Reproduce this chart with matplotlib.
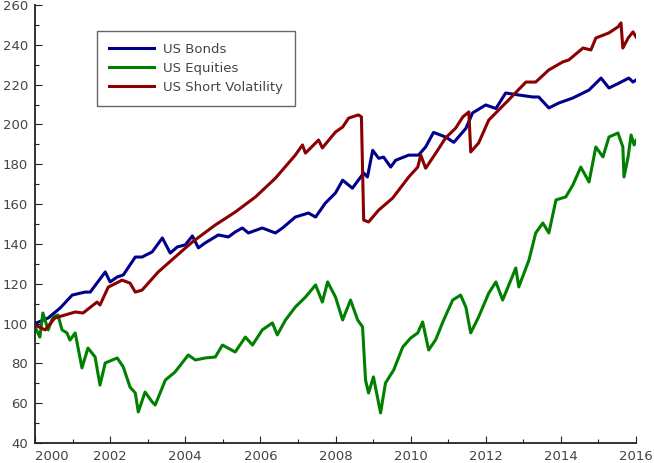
import matplotlib
matplotlib.use("Agg")
import matplotlib.pyplot as plt
from matplotlib.ticker import MultipleLocator

# values (decimal year, index level)
bonds_t = [2000.0, 2000.35, 2000.67, 2000.99, 2001.33, 2001.47, 2001.87, 2002.0, 2002.19, 2002.35,
           2002.67, 2002.85, 2003.12, 2003.39, 2003.6, 2003.79, 2004.0, 2004.19, 2004.35, 2004.53,
           2004.88, 2005.15, 2005.33, 2005.52, 2005.68, 2006.05, 2006.4, 2006.59, 2006.93, 2007.28,
           2007.47, 2007.73, 2008.0, 2008.19, 2008.45, 2008.75, 2008.85, 2008.99, 2009.15, 2009.28,
           2009.47, 2009.6, 2009.95, 2010.21, 2010.4, 2010.61, 2010.93, 2011.15, 2011.47, 2011.65,
           2012.0, 2012.27, 2012.53, 2012.88, 2013.25, 2013.41, 2013.68, 2013.95, 2014.32, 2014.75,
           2015.07, 2015.28, 2015.55, 2015.81, 2015.92, 2016.0]
bonds_v = [100, 102.8, 107.8, 114.3, 115.8, 115.8, 125.9, 120.9, 123.4, 124.4,
           133.4, 133.4, 136, 143, 135.4, 138.5, 139.5, 144, 138, 140.5,
           144.5, 143.5, 146, 148, 145.5, 148, 145.5, 148, 153.5, 155.5,
           153.5, 160.5, 165.6, 172, 168, 175.6, 173.6, 187, 183, 183.6,
           178.6, 182, 184.6, 184.6, 188.7, 196, 193.7, 191, 198, 205.8,
           209.8, 208, 215.8, 214.8, 213.8, 213.8, 208.3, 210.8, 213.3, 217.3,
           223.3, 218.3, 220.8, 223.3, 221.3, 222.3]

equity_t = [2000.0, 2000.13, 2000.21, 2000.35, 2000.48, 2000.61, 2000.72, 2000.85, 2000.93, 2001.07,
            2001.25, 2001.41, 2001.6, 2001.73, 2001.87, 2002.19, 2002.35, 2002.53, 2002.67, 2002.75,
            2002.93, 2003.12, 2003.2, 2003.47, 2003.73, 2004.08, 2004.27, 2004.53, 2004.8, 2004.99,
            2005.33, 2005.6, 2005.79, 2006.05, 2006.32, 2006.45, 2006.67, 2006.93, 2007.2, 2007.47,
            2007.65, 2007.79, 2008.0, 2008.19, 2008.4, 2008.59, 2008.72, 2008.8, 2008.88, 2009.01,
            2009.2, 2009.33, 2009.55, 2009.79, 2010.0, 2010.19, 2010.32, 2010.48, 2010.67, 2010.88,
            2011.12, 2011.33, 2011.47, 2011.6, 2011.81, 2012.08, 2012.27, 2012.45, 2012.8, 2012.88,
            2013.15, 2013.33, 2013.52, 2013.68, 2013.87, 2014.13, 2014.32, 2014.53, 2014.75, 2014.93,
            2015.12, 2015.28, 2015.52, 2015.65, 2015.68, 2015.79, 2015.87, 2015.95, 2016.0]
equity_v = [98.3, 93.2, 105.3, 96.8, 103.3, 104.3, 96.8, 95.3, 91.7, 95.3,
            77.7, 87.7, 83.2, 69.1, 80.2, 82.7, 78.2, 68.1, 65.1, 55.6,
            65.6, 60.6, 59.1, 71.6, 75.7, 84.2, 81.7, 82.7, 83.2, 89.2,
            85.7, 93.2, 89.2, 96.8, 100.3, 94.3, 101.8, 108.3, 113.3, 119.4,
            110.8, 120.9, 113.3, 101.8, 111.8, 101.8, 98.3, 71.6, 65.1, 73.2,
            55.1, 70.1, 76.7, 88.2, 92.7, 95.3, 100.8, 86.7, 92.0, 101.8,
            111.8, 114.3, 108.3, 95.3, 103.3, 115.3, 120.9, 111.8, 127.9, 118.4,
            131.9, 145.5, 150.5, 145.5, 162.1, 163.6, 169.6, 178.6, 171.1, 188.7,
            183.7, 193.7, 195.7, 188.7, 173.6, 183.7, 194.7, 189.7, 192]

shortvol_t = [2000.0, 2000.27, 2000.53, 2000.8, 2001.07, 2001.28, 2001.65, 2001.73, 2001.95, 2002.32,
              2002.53, 2002.67, 2002.85, 2003.28, 2003.73, 2004.19, 2004.8, 2005.33, 2005.87, 2006.4,
              2006.93, 2007.12, 2007.2, 2007.55, 2007.65, 2008.0, 2008.19, 2008.35, 2008.61, 2008.69,
              2008.75, 2008.88, 2009.15, 2009.52, 2009.95, 2010.19, 2010.27, 2010.4, 2010.67, 2010.93,
              2011.2, 2011.39, 2011.55, 2011.6, 2011.81, 2012.08, 2012.53, 2013.07, 2013.33, 2013.68,
              2014.05, 2014.21, 2014.59, 2014.8, 2014.93, 2015.28, 2015.52, 2015.6, 2015.65, 2015.79,
              2015.92, 2016.0]
shortvol_v = [99.3, 96.8, 102.8, 104.3, 105.8, 105.3, 110.8, 109.3, 118.3, 121.8,
              120.3, 115.8, 116.8, 125.9, 133.4, 141, 149.5, 156, 163.6, 173,
              184.6, 189.7, 185.6, 192.2, 188.2, 196.2, 198.7, 203.2, 204.8, 203.8,
              152, 151, 157, 163, 173.6, 178.6, 184.6, 178, 185.6, 193.2,
              198.2, 203.8, 206.3, 186.2, 190.7, 202.2, 210.8, 221.3, 221.3, 227.4,
              231.4, 232.4, 238.4, 237.4, 243.4, 246, 249, 251, 238.4, 243.4,
              246.5, 244]

labels = ['US Bonds', 'US Equities', 'US Short Volatility']
colors = ['#00008c', '#008000', '#8b0000']

plt.rcParams['font.family'] = ['DejaVu Sans']
text_col = '#444444'

fig = plt.figure(figsize=(6.54, 4.63), dpi=100)
ax = fig.add_axes([35 / 654, 20 / 463, 601 / 654, 438 / 463])

ax.plot(bonds_t, bonds_v, color=colors[0], lw=2.2, label=labels[0])
ax.plot(equity_t, equity_v, color=colors[1], lw=2.2, label=labels[1])
ax.plot(shortvol_t, shortvol_v, color=colors[2], lw=2.2, label=labels[2])

ax.set_xlim(2000, 2016)
ax.set_ylim(40, 260)
ax.xaxis.set_major_locator(MultipleLocator(2))
ax.xaxis.set_minor_locator(MultipleLocator(1))
ax.yaxis.set_major_locator(MultipleLocator(20))
ax.yaxis.set_minor_locator(MultipleLocator(10))

for s in ['top', 'right']:
    ax.spines[s].set_visible(False)
for s in ['left', 'bottom']:
    ax.spines[s].set_color('#222222')
    ax.spines[s].set_linewidth(1.3)

ax.tick_params(which='both', direction='in', colors='#222222', labelcolor=text_col, labelsize=9.5)
ax.tick_params(which='major', length=5, width=0.8, pad=5)
ax.tick_params(which='minor', length=3, width=0.8)
ax.set_xticks(range(2000, 2017, 2))
ax.set_xticklabels([str(y) for y in range(2000, 2017, 2)])
ax.get_xticklabels()[0].set_ha('left')

leg = ax.legend(loc='upper left', bbox_to_anchor=(97 / 654, 1 - 31 / 463),
                bbox_transform=fig.transFigure, borderaxespad=0,
                fancybox=False, framealpha=1, edgecolor='#666666',
                handlelength=3.4, handletextpad=0.7, labelspacing=0.45,
                borderpad=0.9, fontsize=9.5)
leg.get_frame().set_linewidth(1.0)
for t in leg.get_texts():
    t.set_color(text_col)

fig.savefig('out.png', dpi=100)
